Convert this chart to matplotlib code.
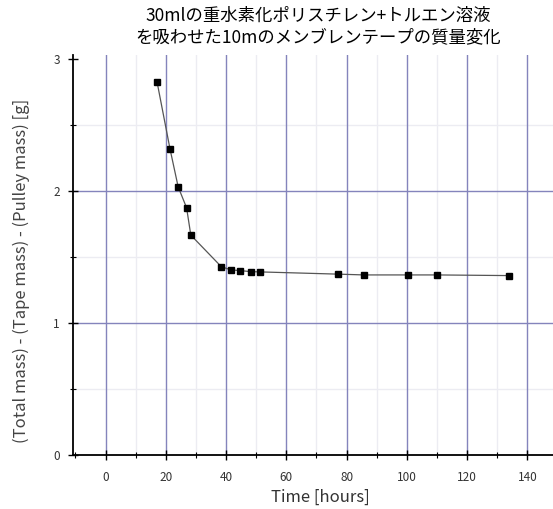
import numpy as np
import matplotlib
matplotlib.use("Agg")
import matplotlib.pyplot as plt
from matplotlib.ticker import MultipleLocator

plt.rcParams['font.family'] = ['Noto Sans CJK JP', 'DejaVu Sans']

# elapsed time [hours] and net mass [g]
time_h = [17.1, 21.4, 24.1, 26.9, 28.3, 38.4, 41.6, 44.6, 48.2, 51.2,
          77.2, 85.8, 100.4, 109.9, 134.0]
mass_g = [2.825, 2.317, 2.03, 1.871, 1.664, 1.425, 1.40, 1.395, 1.387, 1.385,
          1.368, 1.362, 1.362, 1.362, 1.357]

title = "30mlの重水素化ポリスチレン+トルエン溶液\nを吸わせた10mのメンブレンテープの質量変化"

fig = plt.figure(figsize=(5.53, 5.09), dpi=100)
ax = fig.add_axes([0.132, 0.107, 0.868, 0.785])

ax.plot(time_h, mass_g, '-', color='#555555', lw=0.9, zorder=3)
ax.plot(time_h, mass_g, 's', color='black', ms=5, zorder=4)

ax.set_xlim(-10.8, 148.5)
ax.set_ylim(0, 3.03)

ax.xaxis.set_major_locator(MultipleLocator(20))
ax.xaxis.set_minor_locator(MultipleLocator(10))
ax.yaxis.set_major_locator(MultipleLocator(1))
ax.yaxis.set_minor_locator(MultipleLocator(0.5))

# grid: major lines bluish, minor ones faint
for xv in range(0, 150, 20):
    ax.axvline(xv, color='#8484bc', lw=1.0, zorder=1)
for yv in [1, 2]:
    ax.axhline(yv, color='#8484bc', lw=1.0, zorder=1)
for xv in range(10, 150, 20):
    ax.axvline(xv, color='#ececf2', lw=1.0, zorder=0)
for yv in [0.5, 1.5, 2.5]:
    ax.axhline(yv, color='#ececf2', lw=1.0, zorder=0)

for s in ['top', 'right']:
    ax.spines[s].set_visible(False)
ax.spines['left'].set_linewidth(1.3)
ax.spines['bottom'].set_linewidth(1.3)

ax.tick_params(which='major', direction='inout', length=7, width=1.0,
               labelsize=8.5, labelcolor='#333333')
ax.tick_params(axis='x', which='major', pad=8)
ax.tick_params(axis='y', which='major', pad=6)
ax.tick_params(which='minor', direction='inout', length=4, width=0.8)

ax.set_xlabel("Time [hours]", fontsize=12, color='#333333')
ax.xaxis.set_label_coords(0.515, -0.085)
ax.set_ylabel("(Total mass) - (Tape mass) - (Pulley mass) [g]", fontsize=12,
              color='#444444')
ax.yaxis.set_label_coords(-0.09, 0.46)
ax.set_title(title, fontsize=12.5, pad=9, linespacing=1.3, x=0.51)

fig.savefig("out.png", dpi=100)
